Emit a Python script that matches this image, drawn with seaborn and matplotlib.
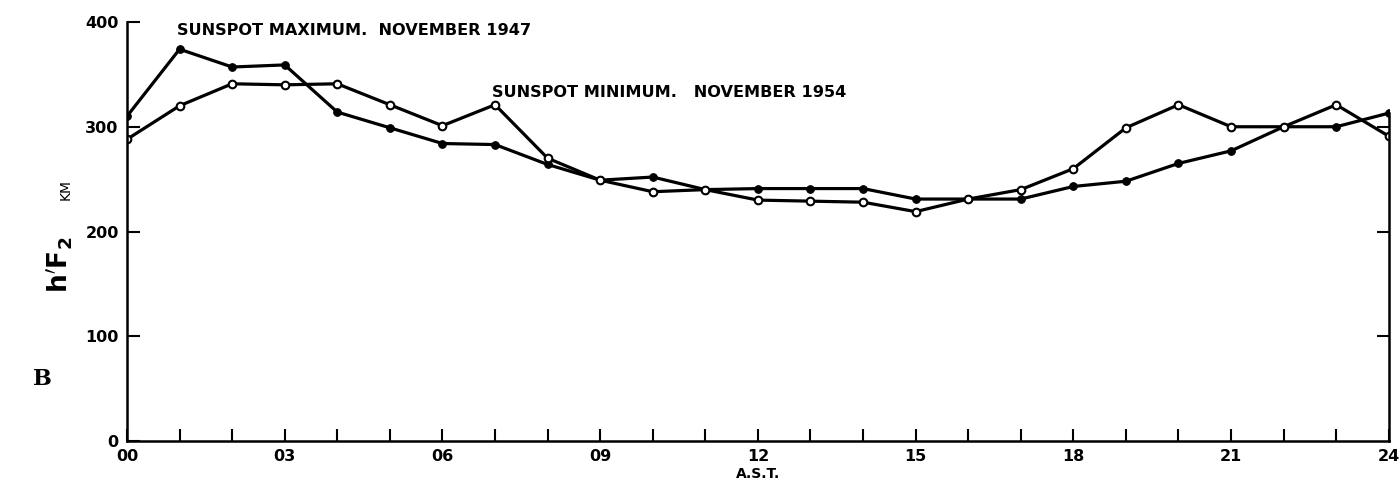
import numpy as np
import pandas as pd
import seaborn as sns
import matplotlib.pyplot as plt
from matplotlib.ticker import MultipleLocator, FixedLocator

hours = list(range(0, 25))
sunspot_max_1947 = [310, 374, 357, 359, 314, 299, 284, 283, 264, 249, 252, 240, 241,
                    241, 241, 231, 231, 231, 243, 248, 265, 277, 300, 300, 313]
sunspot_min_1954 = [288, 320, 341, 340, 341, 321, 301, 321, 270, 249, 238, 240, 230,
                    229, 228, 219, 231, 240, 260, 299, 321, 300, 300, 321, 291]
xtick_labels = ["00", "03", "06", "09", "12", "15", "18", "21", "24"]
ytick_values = [0, 100, 200, 300, 400]
right_ticks = [100, 200, 300]

data = pd.DataFrame({"hour": hours, "max": sunspot_max_1947, "min": sunspot_min_1954})

sns.set_theme(style="ticks")
plt.rcParams['font.family'] = ['DejaVu Sans']
plt.rcParams['text.color'] = 'black'

fig = plt.figure(figsize=(14, 4.99), dpi=100)
ax = fig.add_axes([0.0907, 0.116, 0.9013, 0.84])

sns.lineplot(data=data, x="hour", y="max", ax=ax, color="black", linewidth=2.3,
             marker="o", markersize=5.5, markerfacecolor="black", markeredgecolor="black")
sns.lineplot(data=data, x="hour", y="min", ax=ax, color="black", linewidth=2.3,
             marker="o", markersize=5.5, markerfacecolor="white", markeredgecolor="black",
             markeredgewidth=1.5)

ax.set_xlim(0, 24)
ax.set_ylim(0, 400)
ax.xaxis.set_major_locator(FixedLocator(list(range(0, 25, 3))))
ax.xaxis.set_minor_locator(MultipleLocator(1))
ax.set_xticklabels(xtick_labels)
ax.set_yticks(ytick_values)
ax.set_yticklabels([str(v) for v in ytick_values])

ax.tick_params(axis="both", which="both", direction="in", length=9, width=1.5,
               labelsize=11.5, colors="black")
ax.tick_params(axis="y", pad=6)
ax.tick_params(axis="x", pad=6)
for lab in ax.get_xticklabels() + ax.get_yticklabels():
    lab.set_fontweight("bold")

# right side: short spine with inward ticks at 100-300
ax2 = ax.twinx()
ax2.set_ylim(0, 400)
ax2.set_yticks(right_ticks)
ax2.set_yticklabels([])
ax2.tick_params(axis="y", direction="in", length=9, width=1.5, colors="black")
for s in ["top", "left", "bottom"]:
    ax2.spines[s].set_visible(False)
ax2.spines["right"].set_bounds(0, 313)
ax2.spines["right"].set_linewidth(1.8)
ax2.spines["right"].set_color("black")

ax.spines["top"].set_visible(False)
ax.spines["right"].set_visible(False)
for s in ["left", "bottom"]:
    ax.spines[s].set_linewidth(1.8)
    ax.spines[s].set_color("black")

ax.set_xlabel("A.S.T.", fontsize=10, fontweight="bold", labelpad=2, color="black")
ax.set_ylabel("")

ax.text(0.95, 392, "SUNSPOT MAXIMUM.  NOVEMBER 1947", fontsize=11.6, fontweight="bold",
        ha="left", va="center", color="black")
ax.text(6.95, 333, "SUNSPOT MINIMUM.   NOVEMBER 1954", fontsize=11.6, fontweight="bold",
        ha="left", va="center", color="black")

fig.text(0.043, 0.47, r"$\mathbf{h'F_2}$", fontsize=19, rotation=90, ha="center",
         va="center", color="black")
fig.text(0.047, 0.62, "KM", fontsize=10, rotation=90, ha="center", va="center", color="black")
fig.text(0.03, 0.24, "B", fontsize=16, fontweight="bold", family=["DejaVu Serif"],
         ha="center", va="center", color="black")

fig.savefig("out.png", dpi=100)
